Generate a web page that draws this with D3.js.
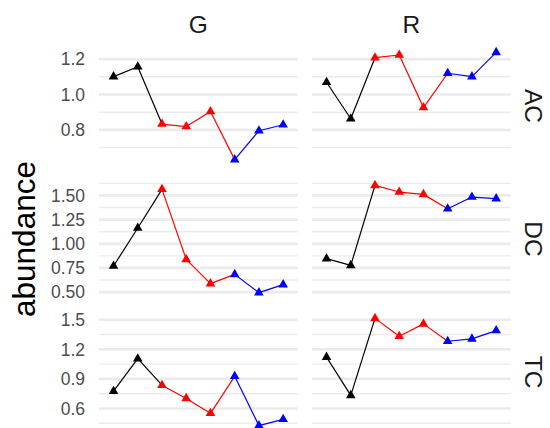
<!DOCTYPE html>
<html>
<head>
<meta charset="utf-8">
<script src="https://cdn.jsdelivr.net/npm/d3@7"></script>
<style>
  html, body { margin: 0; padding: 0; background: #ffffff; }
  svg { display: block; }
  text { font-family: "Liberation Sans", Arial, Helvetica, sans-serif; }
</style>
</head>
<body>
<script>
// ---------------- data ----------------
const categories = ["1", "2", "3", "4", "5", "6", "7", "8"];
const groups = ["black", "black", "red", "red", "red", "blue", "blue", "blue"];
const rowNames = ["AC", "DC", "TC"];
const colNames = ["G", "R"];

const AC_G = [1.101, 1.157, 0.833, 0.819, 0.904, 0.632, 0.795, 0.829];
const AC_R = [1.069, 0.863, 1.208, 1.223, 0.926, 1.120, 1.101, 1.238];
const DC_G = [0.770, 1.163, 1.563, 0.839, 0.588, 0.684, 0.495, 0.578];
const DC_R = [0.846, 0.777, 1.604, 1.535, 1.511, 1.363, 1.483, 1.467];
const TC_G = [0.775, 1.105, 0.836, 0.702, 0.551, 0.926, 0.426, 0.490];
const TC_R = [1.121, 0.733, 1.514, 1.333, 1.458, 1.282, 1.306, 1.390];

const AC_ticks = [0.8, 1.0, 1.2];
const DC_ticks = [0.5, 0.75, 1.0, 1.25, 1.5];
const TC_ticks = [0.6, 0.9, 1.2, 1.5];
const AC_tickLabels = ["0.8", "1.0", "1.2"];
const DC_tickLabels = ["0.50", "0.75", "1.00", "1.25", "1.50"];
const TC_tickLabels = ["0.6", "0.9", "1.2", "1.5"];

const series = { AC: { G: AC_G, R: AC_R }, DC: { G: DC_G, R: DC_R }, TC: { G: TC_G, R: TC_R } };
const ticks = { AC: AC_ticks, DC: DC_ticks, TC: TC_ticks };
const tickLabels = { AC: AC_tickLabels, DC: DC_tickLabels, TC: TC_tickLabels };

const colorOf = { black: "#000000", red: "#FF0000", blue: "#0000FF" };

// ---------------- layout ----------------
const W = 550, Hh = 428;
const panelLeft = 99, panelW = 198.7, gapX = 14.3;
const panelTop = 47, panelH = 118, gapY = 15;

const svg = d3.select("body").append("svg").attr("width", W).attr("height", Hh);

const defs = svg.append("defs");

rowNames.forEach((rn, ri) => {
  const top = panelTop + ri * (panelH + gapY);
  const all = colNames.flatMap(cn => series[rn][cn]);
  const [mn, mx] = d3.extent(all);
  const pad = (mx - mn) * 0.05;
  const y = d3.scaleLinear().domain([mn - pad, mx + pad]).range([top + panelH, top]);

  const tv = ticks[rn];
  const step = tv[1] - tv[0];
  const minor = [tv[0] - step / 2, ...tv.map(t => t + step / 2)]
    .filter(v => v >= y.domain()[0] && v <= y.domain()[1]);

  // y tick labels (left column only)
  svg.append("g").selectAll("text").data(tv).join("text")
    .attr("x", 85).attr("y", d => y(d)).attr("dy", "0.36em")
    .attr("text-anchor", "end")
    .attr("font-size", 17.5).attr("fill", "#4D4D4D")
    .text((d, i) => tickLabels[rn][i]);

  colNames.forEach((cn, ci) => {
    const left = panelLeft + ci * (panelW + gapX);
    const x = d3.scalePoint().domain(categories).range([left, left + panelW]).padding(0.6);
    const g = svg.append("g");
    const clipId = `clip-${rn}-${cn}`;
    defs.append("clipPath").attr("id", clipId).append("rect")
      .attr("x", left).attr("y", top - 6).attr("width", panelW).attr("height", panelH + 12);

    // grid
    g.append("g").selectAll("line").data(minor).join("line")
      .attr("x1", left).attr("x2", left + panelW)
      .attr("y1", d => y(d)).attr("y2", d => y(d))
      .attr("stroke", "#EBEBEB").attr("stroke-width", 1.4);
    g.append("g").selectAll("line").data(tv).join("line")
      .attr("x1", left).attr("x2", left + panelW)
      .attr("y1", d => y(d)).attr("y2", d => y(d))
      .attr("stroke", "#EBEBEB").attr("stroke-width", 2.7);

    const vals = series[rn][cn];
    const pts = vals.map((v, i) => ({ c: categories[i], v, grp: groups[i] }));
    const segs = pts.slice(0, -1).map((p, i) => ({ a: p, b: pts[i + 1] }));

    const data = g.append("g").attr("clip-path", `url(#${clipId})`);
    data.append("g").selectAll("line").data(segs).join("line")
      .attr("x1", d => x(d.a.c)).attr("y1", d => y(d.a.v))
      .attr("x2", d => x(d.b.c)).attr("y2", d => y(d.b.v))
      .attr("stroke", d => colorOf[d.a.grp]).attr("stroke-width", 1.2);
    data.append("g").selectAll("path").data(pts).join("path")
      .attr("transform", d => `translate(${x(d.c)},${y(d.v)})`)
      .attr("d", d3.symbol(d3.symbolTriangle, 40))
      .attr("fill", d => colorOf[d.grp]);
  });

  // right strip label
  const cy = top + panelH / 2;
  svg.append("text")
    .attr("transform", `translate(534,${cy}) rotate(90)`)
    .attr("dy", "0.36em").attr("text-anchor", "middle")
    .attr("font-size", 24.5).attr("fill", "#1A1A1A")
    .text(rn);
});

// top strip labels
colNames.forEach((cn, ci) => {
  const left = panelLeft + ci * (panelW + gapX);
  svg.append("text")
    .attr("x", left + panelW / 2).attr("y", 24).attr("dy", "0.36em")
    .attr("text-anchor", "middle")
    .attr("font-size", 24.5).attr("fill", "#1A1A1A")
    .text(cn);
});

// y axis title
svg.append("text")
  .attr("transform", `translate(35,${panelTop + (3 * panelH + 2 * gapY) / 2}) rotate(-90)`)
  .attr("text-anchor", "middle")
  .attr("font-size", 31.5).attr("fill", "#000000")
  .text("abundance");
</script>
</body>
</html>
